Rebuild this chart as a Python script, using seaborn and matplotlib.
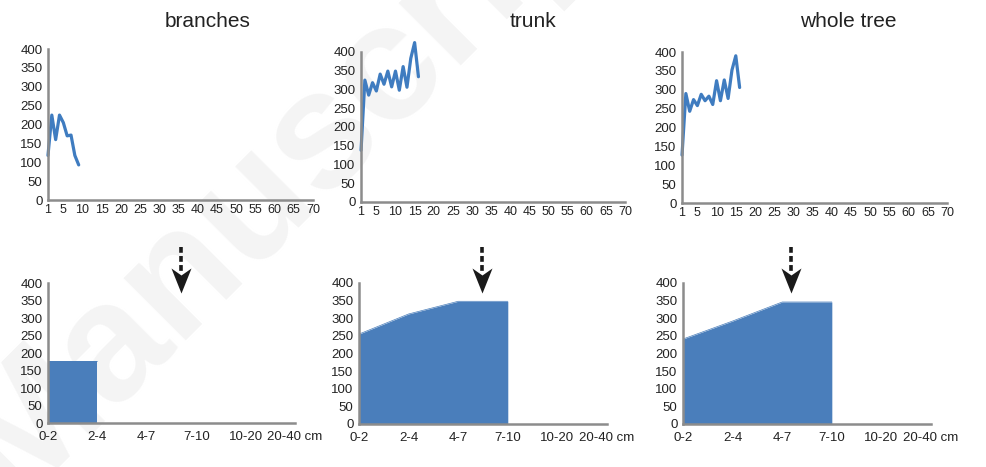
import seaborn as sns
import matplotlib.pyplot as plt
import numpy as np
from matplotlib.path import Path

# top row: value per position (1..n)
branches_vals = [118, 225, 160, 225, 205, 170, 172, 118, 93]
trunk_vals = [138, 325, 285, 318, 296, 341, 314, 349, 307, 349, 298, 361, 306, 383, 425, 334]
whole_vals = [127, 290, 243, 274, 258, 288, 271, 283, 261, 324, 271, 326, 277, 352, 390, 306]

# bottom row: diameter classes
classes = ['0-2', '2-4', '4-7', '7-10', '10-20', '20-40 cm']
branches_cls = [176, 176]
trunk_cls = [255, 312, 348, 348]
whole_cls = [241, 292, 346, 346]

titles = ['branches', 'trunk', 'whole tree']
arrow_pos = [2.7, 2.48, 2.18]   # where the dashed arrows point

top_ticks = [1, 5, 10, 15, 20, 25, 30, 35, 40, 45, 50, 55, 60, 65, 70]

sns.set_style('white')
plt.rcParams['font.family'] = ['Liberation Sans', 'DejaVu Sans']

line_c = '#3F7CC0'
area_c = '#4A7EBB'
axis_c = '#8C8C8C'
txt_c = '#222222'

fig = plt.figure(figsize=(9.87, 4.67), dpi=100)

# faint watermark, behind everything
fig.text(0.30, 0.66, 'Manuscript', rotation=45, fontsize=120, fontweight='bold',
         color='#f4f4f4', ha='center', va='center', zorder=-5)

top_boxes = [[0.0486, 0.5717, 0.2685, 0.3233],
             [0.3658, 0.5675, 0.2675, 0.3212],
             [0.6910, 0.5653, 0.2685, 0.3233]]
bot_boxes = [[0.0486, 0.0942, 0.2503, 0.2998],
             [0.3637, 0.0921, 0.2513, 0.3020],
             [0.6920, 0.0921, 0.2513, 0.3020]]


def style_axes(ax):
    ax.patch.set_alpha(0)
    for s in ['top', 'right']:
        ax.spines[s].set_visible(False)
    for s in ['left', 'bottom']:
        ax.spines[s].set_color(axis_c)
        ax.spines[s].set_linewidth(1.8)
    ax.set_ylim(0, 400)
    ax.set_yticks(range(0, 401, 50))
    ax.tick_params(axis='y', length=3, width=1, color=axis_c, labelsize=9.5,
                   labelcolor=txt_c, pad=1)
    ax.set_xlabel('')
    ax.set_ylabel('')


for vals, box, title, tx in zip([branches_vals, trunk_vals, whole_vals], top_boxes,
                                titles, [0.21, 0.54, 0.859]):
    ax = fig.add_axes(box)
    x = np.arange(1, len(vals) + 1)
    sns.lineplot(x=x, y=vals, ax=ax, color=line_c, linewidth=2.3, clip_on=False)
    style_axes(ax)
    ax.set_xlim(1, 70)
    ax.set_xticks(top_ticks)
    ax.tick_params(axis='x', length=0, labelsize=9, labelcolor=txt_c, pad=3)
    fig.text(tx, 0.953, title, ha='center', va='center', fontsize=15, color=txt_c)

head = Path([(0, 0), (-0.4, 1.0), (0, 0.72), (0.4, 1.0), (0, 0)],
            [Path.MOVETO, Path.LINETO, Path.LINETO, Path.LINETO, Path.CLOSEPOLY])

for vals, box, ap in zip([branches_cls, trunk_cls, whole_cls], bot_boxes, arrow_pos):
    ax = fig.add_axes(box)
    x = np.arange(len(vals))
    ax.fill_between(x, vals, 0, color=area_c, linewidth=0)
    sns.lineplot(x=x, y=vals, ax=ax, color=area_c, linewidth=0.5)
    style_axes(ax)
    ax.set_xlim(0, 5)
    ax.set_xticks(range(len(classes)))
    ax.set_xticklabels(classes)
    ax.tick_params(axis='x', length=3, width=1, color=axis_c, labelsize=9.5,
                   labelcolor=txt_c, pad=3)
    # dashed arrow above the plot
    ax.plot([ap, ap], [502, 435], color='#1a1a1a', lw=2.6, ls=(0, (1.6, 0.9)),
            clip_on=False, dash_capstyle='butt')
    ax.plot([ap], [372], marker=head, markersize=36, color='#1a1a1a',
            markeredgewidth=0, clip_on=False)

plt.savefig('out.png', dpi=100)
